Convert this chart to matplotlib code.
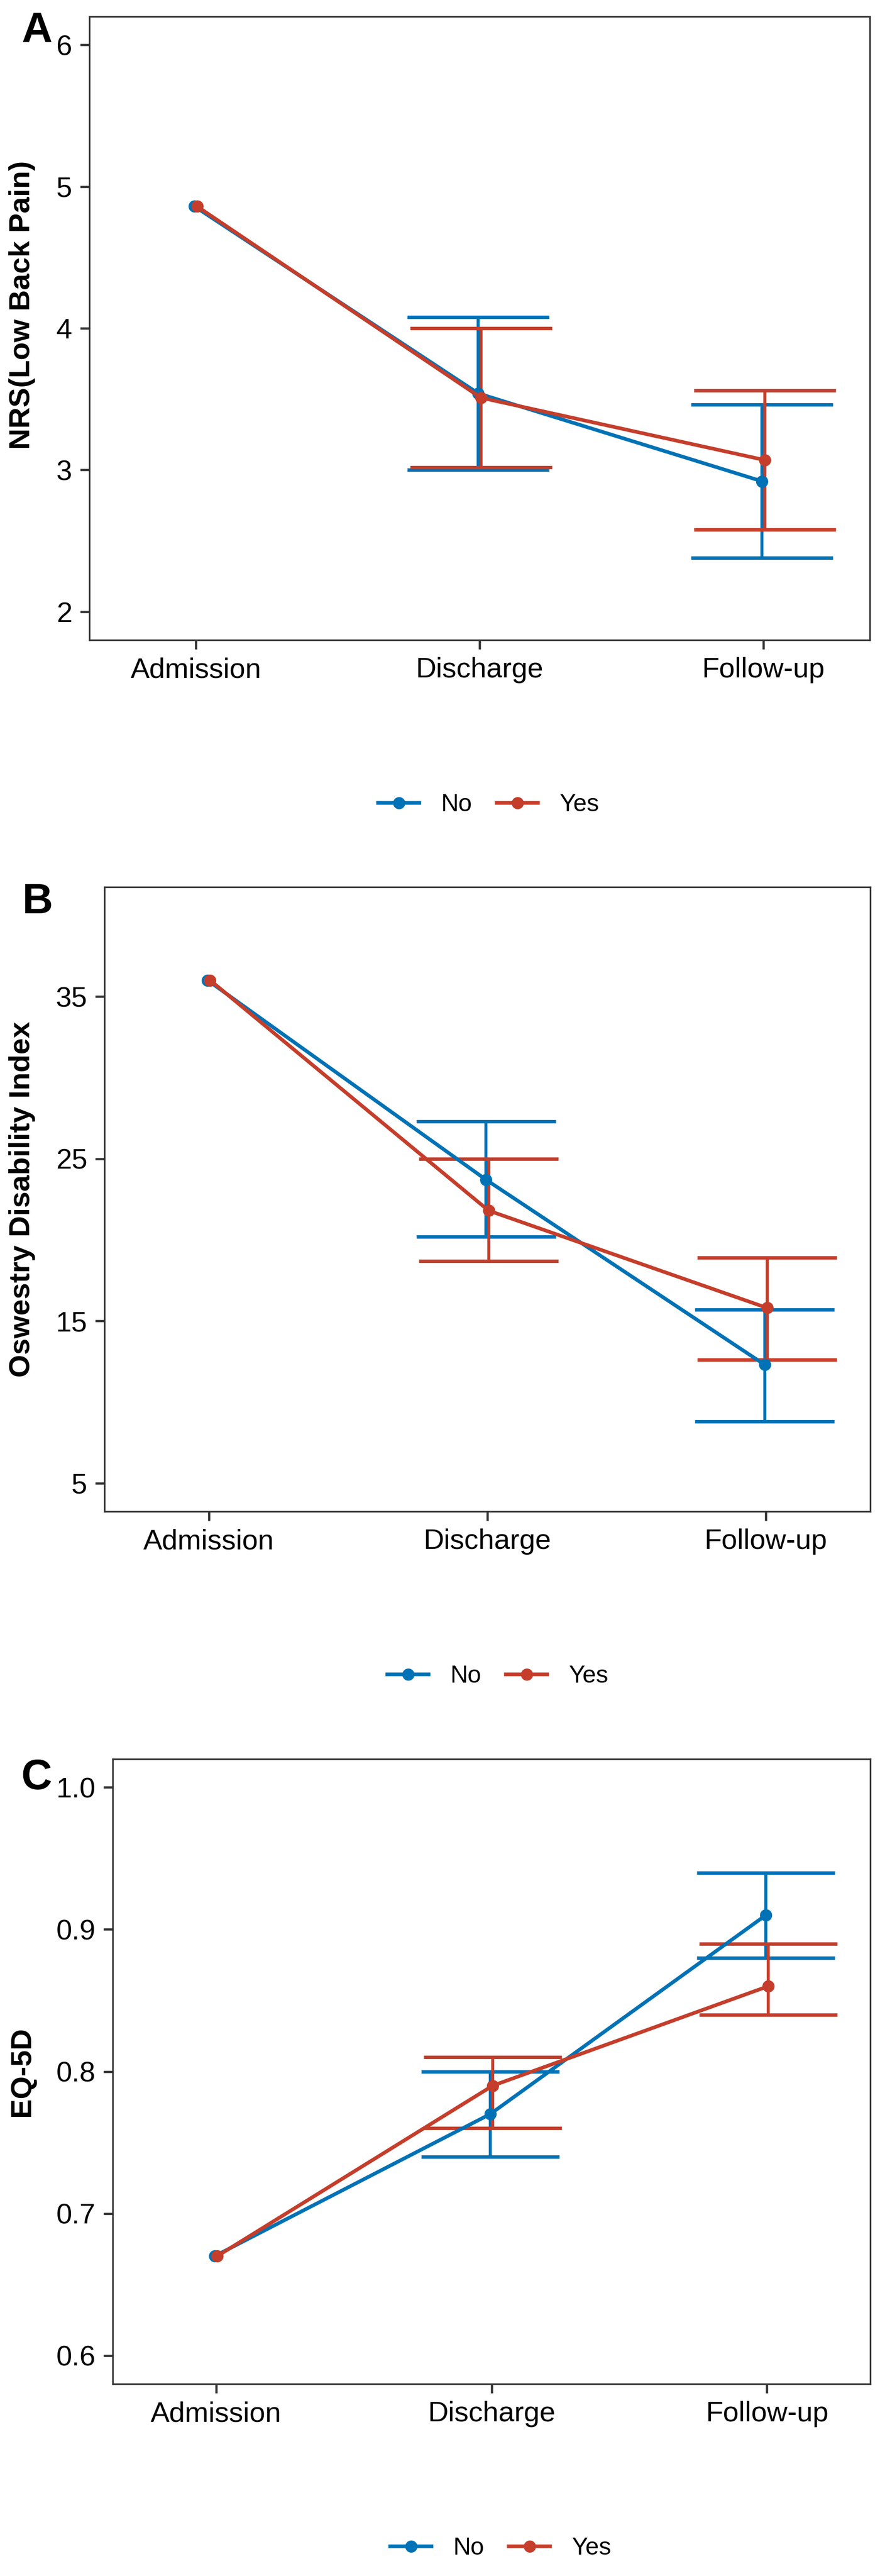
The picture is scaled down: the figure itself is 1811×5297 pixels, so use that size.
import numpy as np
import matplotlib
matplotlib.use('Agg')
import matplotlib.pyplot as plt
import matplotlib.transforms as mtransforms
from matplotlib.lines import Line2D

plt.rcParams['font.family'] = ['Liberation Sans', 'DejaVu Sans']

timepoints = ['Admission', 'Discharge', 'Follow-up']
groups = ['No', 'Yes']

# NRS (low back pain): mean, lower, upper (Admission has no error bar)
nrs_no_mean = [4.86, 3.54, 2.92]
nrs_no_low = [np.nan, 3.00, 2.38]
nrs_no_high = [np.nan, 4.08, 3.46]
nrs_yes_mean = [4.86, 3.51, 3.07]
nrs_yes_low = [np.nan, 3.02, 2.58]
nrs_yes_high = [np.nan, 4.00, 3.56]

# Oswestry Disability Index
odi_no_mean = [36.0, 23.7, 12.3]
odi_no_low = [np.nan, 20.2, 8.8]
odi_no_high = [np.nan, 27.3, 15.7]
odi_yes_mean = [36.0, 21.8, 15.8]
odi_yes_low = [np.nan, 18.7, 12.6]
odi_yes_high = [np.nan, 25.0, 18.9]

# EQ-5D
eq_no_mean = [0.67, 0.77, 0.91]
eq_no_low = [np.nan, 0.74, 0.88]
eq_no_high = [np.nan, 0.80, 0.94]
eq_yes_mean = [0.67, 0.79, 0.86]
eq_yes_low = [np.nan, 0.76, 0.84]
eq_yes_high = [np.nan, 0.81, 0.89]

colors = {'No': '#0072B5', 'Yes': '#C43E2B'}
W, H = 1811, 5297
DPI = 300

fig = plt.figure(figsize=(W / DPI, H / DPI), dpi=DPI)


def add_panel(box, letter, letter_xy, ylabel, label_y, data, ylim, yticks, fmt, legend_xy):
    l, t, r, b = box
    ax = fig.add_axes([l / W, 1 - b / H, (r - l) / W, (b - t) / H])
    x = np.arange(1, len(timepoints) + 1)
    dodge = {'No': -0.0045, 'Yes': 0.0045}
    for g in groups:
        mean, low, high = data[g]
        xs = x + dodge[g]
        low = np.array(low)
        high = np.array(high)
        ok = ~np.isnan(low)
        ax.vlines(xs[ok], low[ok], high[ok], color=colors[g], lw=1.5, zorder=2)
        ax.hlines(low[ok], xs[ok] - 0.25, xs[ok] + 0.25, color=colors[g], lw=1.7, zorder=2)
        ax.hlines(high[ok], xs[ok] - 0.25, xs[ok] + 0.25, color=colors[g], lw=1.7, zorder=2)
    for g in groups:
        mean = data[g][0]
        ax.plot(x + dodge[g], mean, '-o', color=colors[g], lw=1.8, ms=5, zorder=3)

    ax.set_xlim(0.625, 3.375)
    ax.set_ylim(*ylim)
    ax.set_xticks(x)
    ax.set_xticklabels(timepoints, fontsize=14)
    ax.set_yticks(yticks)
    ax.set_yticklabels([fmt % v for v in yticks], fontsize=14)
    ax.tick_params(length=4.5, width=1.1, color='#333333', pad=4, labelcolor='black')
    for s in ax.spines.values():
        s.set_color('#333333')
        s.set_linewidth(0.8)

    ax.set_ylabel(ylabel, fontsize=14.5, fontweight='bold')
    tr = mtransforms.blended_transform_factory(fig.transFigure, ax.transAxes)
    ax.yaxis.set_label_coords(73 / W, label_y, transform=tr)

    fig.text(letter_xy[0] / W, 1 - letter_xy[1] / H, letter, fontsize=21,
             fontweight='bold', ha='center', va='center')

    handles = [Line2D([], [], color=colors[g], lw=1.8, marker='o', ms=5) for g in groups]
    fig.legend(handles, groups, loc='center', ncol=2, frameon=False, fontsize=12,
               bbox_to_anchor=(legend_xy[0] / W, 1 - legend_xy[1] / H),
               handlelength=1.7, handletextpad=0.9, columnspacing=1.0)
    return ax


add_panel((184, 34, 1790, 1316), 'A', (76, 64), 'NRS(Low Back Pain)', 0.537,
          {'No': (nrs_no_mean, nrs_no_low, nrs_no_high),
           'Yes': (nrs_yes_mean, nrs_yes_low, nrs_yes_high)},
          (1.8, 6.2), [2, 3, 4, 5, 6], '%d', (1006, 1655))

add_panel((215, 1824, 1791, 3108), 'B', (77, 1856), 'Oswestry Disability Index', 0.5,
          {'No': (odi_no_mean, odi_no_low, odi_no_high),
           'Yes': (odi_yes_mean, odi_yes_low, odi_yes_high)},
          (3.25, 41.75), [5, 15, 25, 35], '%d', (1025, 3447))

add_panel((232, 3617, 1791, 4902), 'C', (75, 3657), 'EQ-5D', 0.5,
          {'No': (eq_no_mean, eq_no_low, eq_no_high),
           'Yes': (eq_yes_mean, eq_yes_low, eq_yes_high)},
          (0.58, 1.02), [0.6, 0.7, 0.8, 0.9, 1.0], '%.1f', (1031, 5240))

fig.savefig('out.png', dpi=DPI, facecolor='white')
